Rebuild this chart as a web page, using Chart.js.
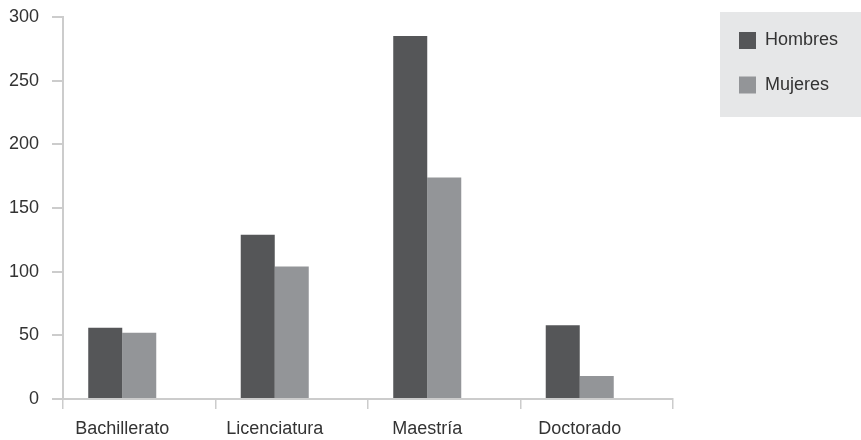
<!DOCTYPE html>
<html>
<head>
<meta charset="utf-8">
<script src="https://cdn.jsdelivr.net/npm/chart.js@4/dist/chart.umd.min.js"></script>
<style>
html,body{margin:0;padding:0;background:#fff;}
#wrap{width:861px;height:440px;position:relative;}
</style>
</head>
<body>
<div id="wrap"><canvas id="c" width="861" height="440"></canvas></div>
<script>
const categories = ["Bachillerato", "Licenciatura", "Maestría", "Doctorado"];
const hombres = [56, 129, 285, 58];
const mujeres = [52, 104, 174, 18];
const seriesNames = ["Hombres", "Mujeres"];
const yTicks = [0, 50, 100, 150, 200, 250, 300];

const FONT = '"Liberation Sans", Arial, Helvetica, sans-serif';
const DARK = '#555658';
const LIGHT = '#939598';
const AXIS = '#cccccc';
const TEXT = '#333333';

const legendPlugin = {
  id: 'boxLegend',
  afterDraw(chart) {
    const ctx = chart.ctx;
    ctx.save();
    ctx.fillStyle = '#e6e7e8';
    ctx.fillRect(720, 12, 141, 105);
    const items = chart.data.datasets.filter(d => d.label);
    items.forEach((d, i) => {
      const y = 32 + i * 44.5;
      ctx.fillStyle = d.backgroundColor;
      ctx.fillRect(739, y, 17, 17);
      ctx.fillStyle = TEXT;
      ctx.font = '18px ' + FONT;
      ctx.textBaseline = 'middle';
      ctx.textAlign = 'left';
      ctx.fillText(d.label, 765, y + 8.5);
    });
    ctx.restore();
  }
};

new Chart(document.getElementById('c'), {
  type: 'bar',
  data: {
    labels: categories,
    datasets: [
      { label: seriesNames[0], data: hombres, backgroundColor: DARK, borderWidth: 0 },
      { label: seriesNames[1], data: mujeres, backgroundColor: LIGHT, borderWidth: 0 },
      { label: '', data: categories.map(() => null), backgroundColor: 'rgba(0,0,0,0)', borderWidth: 0 }
    ]
  },
  options: {
    responsive: false,
    animation: false,
    devicePixelRatio: 1,
    layout: { padding: { left: 0, top: 17, right: 188, bottom: 0 } },
    categoryPercentage: 0.669,
    barPercentage: 1.0,
    plugins: {
      legend: { display: false },
      tooltip: { enabled: false },
      title: { display: false }
    },
    scales: {
      x: {
        offset: true,
        grid: {
          display: true,
          drawOnChartArea: false,
          offset: true,
          tickLength: 10,
          color: AXIS,
          lineWidth: 1.5
        },
        border: { display: true, color: AXIS, width: 2 },
        ticks: {
          color: TEXT,
          font: { size: 18, family: FONT },
          padding: 9,
          labelOffset: -17,
          maxRotation: 0,
          autoSkip: false
        },
        afterFit(scale) { scale.height = 41; scale.paddingLeft = 0; scale.paddingRight = 0; }
      },
      y: {
        min: 0,
        max: 300,
        afterBuildTicks(scale) { scale.ticks = yTicks.map(v => ({ value: v })); },
        grid: {
          display: true,
          drawOnChartArea: false,
          tickLength: 11,
          color: AXIS,
          lineWidth: 2
        },
        border: { display: true, color: AXIS, width: 2 },
        ticks: {
          color: TEXT,
          font: { size: 18, family: FONT },
          padding: 13
        },
        afterFit(scale) { scale.width = 63; scale.paddingTop = 0; scale.paddingBottom = 0; }
      }
    }
  },
  plugins: [legendPlugin]
});
</script>
</body>
</html>
